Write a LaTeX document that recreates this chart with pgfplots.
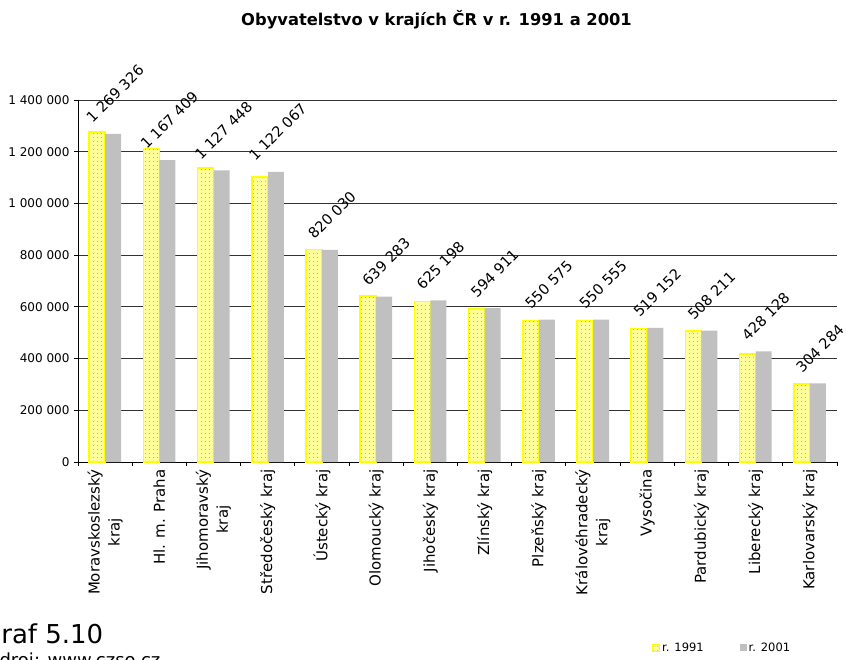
\documentclass[border=0pt]{standalone}
\usepackage{pgfplots}
\pgfplotsset{compat=1.18}
\usepackage{pgfplotstable}
\usepackage{fontspec}
\setmainfont{DejaVu Sans}
\usetikzlibrary{patterns}
\definecolor{yel}{HTML}{FFFF00}
\definecolor{yelfill}{HTML}{FFFF99}
\definecolor{grbar}{HTML}{C0C0C0}
\pgfdeclarepatternformonly{mydots}{\pgfpointorigin}{\pgfpoint{4pt}{4pt}}{\pgfpoint{4pt}{4pt}}{\pgfpathcircle{\pgfpoint{2pt}{2pt}}{0.6pt}\pgfusepath{fill}}
\pgfplotstableread[col sep=comma,row sep=\\]{
x,a,b,ls,lab\\
0,1277000,1269326,40,1 269 326\\
1,1212000,1167409,40,1 167 409\\
2,1137000,1127448,40,1 127 448\\
3,1102000,1122067,40,1 122 067\\
4,822000,820030,35,820 030\\
5,641000,639283,35,639 283\\
6,621000,625198,35,625 198\\
7,591000,594911,35,594 911\\
8,548000,550575,35,550 575\\
9,547000,550555,35,550 555\\
10,516000,519152,35,519 152\\
11,506000,508211,35,508 211\\
12,417000,428128,35,428 128\\
13,301000,304284,35,304 284\\
}\data
\begin{document}
\begin{tikzpicture}[x=1pt,y=1pt]
\useasboundingbox (0,0) rectangle (846,659);
\begin{axis}[
  at={(78pt,197pt)}, anchor=south west,
  scale only axis, width=759pt, height=362pt,
  ybar=0pt, bar width=16pt,
  xmin=-0.5, xmax=13.5, ymin=0, ymax=1400000,
  axis lines*=left,
  axis line style={black, line width=0.9pt},
  ymajorgrids, grid style={black!80, line width=0.9pt},
  ytick={0,200000,400000,600000,800000,1000000,1200000,1400000},
  scaled y ticks=false,
  /pgf/number format/assume math mode=true,
  y tick label style={/pgf/number format/fixed, /pgf/number format/precision=0, /pgf/number format/1000 sep={\ }, font=\fontsize{12}{14}\selectfont, xshift=-1pt},
  tick align=outside, major tick length=4pt, minor tick length=4pt,
  tick style={black, line width=0.9pt},
  xtick={0,...,13},
  xticklabels={{Moravskoslezský\\kraj},{Hl. m. Praha},{Jihomoravský\\kraj},{Středočeský kraj},{Ústecký kraj},{Olomoucký kraj},{Jihočeský kraj},{Zlínský kraj},{Plzeňský kraj},{Královéhradecký\\kraj},{Vysočina},{Pardubický kraj},{Liberecký kraj},{Karlovarský kraj}},
  major x tick style={draw=none},
  minor xtick={-0.5,0.5,...,13.5},
  x tick label style={rotate=90, anchor=east, align=center, font=\fontsize{15}{20}\selectfont, yshift=0pt},
  legend style={at={(0.7563,-0.5138)}, anchor=west, draw=none, fill=none, inner sep=0pt,
    font=\fontsize{11.5}{13}\selectfont, legend columns=2,
    /tikz/every even column/.append style={column sep=34pt}},
  legend image code/.code={\path[#1, line width=1pt] (0pt,-3.5pt) rectangle (7pt,3.5pt);},
]
\addplot[fill=yelfill, draw=yel, line width=1.6pt, postaction={pattern=mydots, pattern color=gray!80}] table[x=x,y=a]{\data};
\addplot[fill=grbar, draw=none,
  nodes near coords, point meta=explicit symbolic,
  visualization depends on={\thisrow{ls}\as\ls},
  every node near coord/.append style={yshift=\ls pt, xshift=2pt, rotate=45, anchor=center, inner sep=0pt, font=\fontsize{14.5}{16}\selectfont, black}]
  table[x=x,y=b,meta=lab]{\data};
\legend{r. 1991, r. 2001}
\end{axis}
\node[font=\fontsize{16.3}{19}\selectfont\bfseries] at (436.5,639) {Obyvatelstvo v krajích ČR v r. 1991 a 2001};
\node[font=\fontsize{26}{30}\selectfont, anchor=base west, inner sep=0pt] at (-19,16) {Graf 5.10};
\node[font=\fontsize{18}{20}\selectfont, anchor=base west, inner sep=0pt] at (-13,-7.5) {Zdroj: www.czso.cz};
\end{tikzpicture}
\end{document}
